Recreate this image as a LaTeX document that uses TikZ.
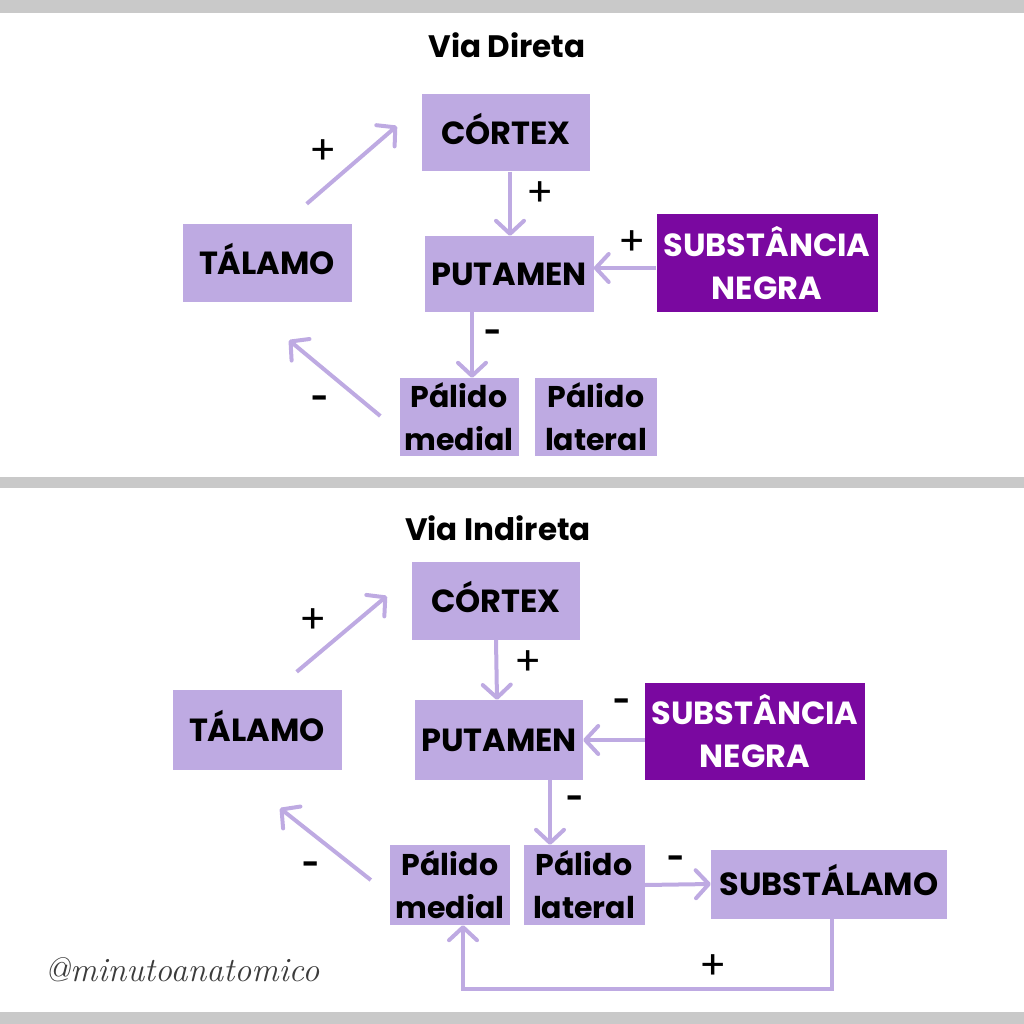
\documentclass[tikz,border=0pt]{standalone}
\usepackage{fontspec}
\setmainfont{Poppins}
\usetikzlibrary{arrows.meta}
\definecolor{lilac}{RGB}{190,170,226}
\definecolor{grape}{RGB}{122,8,160}
\definecolor{bar}{RGB}{201,201,201}
\definecolor{ink}{RGB}{60,60,60}
\begin{document}
\begin{tikzpicture}[x=1pt,y=-1pt]
        \tikzstyle{every node}=[inner sep=0pt, align=center, font=\bfseries\fontsize{32}{43}\selectfont]
        \tikzstyle{area}=[fill=lilac, text=black]
        \tikzstyle{dark}=[fill=grape, text=white]
        \tikzstyle{one}=[text height=23pt, text depth=0pt]
        \tikzstyle{pale}=[font=\bfseries\fontsize{30}{43}\selectfont]
        \tikzstyle{sign}=[font=\fontsize{40}{40}\selectfont]
        \tikzstyle{minus}=[font=\bfseries\fontsize{30}{30}\selectfont]
        \tikzstyle{title}=[font=\bfseries\fontsize{31}{31}\selectfont]
        \tikzstyle{arr}=[draw=lilac, line width=4pt, -{Straight Barb[length=13pt,width=28pt,round]}]
        \useasboundingbox (0,0) rectangle (1024,1024);
        % bars
        \fill[bar] (0,0) rectangle (1024,13);
        \fill[bar] (0,477) rectangle (1024,488);
        \fill[bar] (0,1012) rectangle (1024,1024);
        % via direta
        \node[title] (tit1) at (507,45) {Via Direta};
        \node[area, one, minimum width=168pt, minimum height=77pt] (ctx1) at (506,133) {CÓRTEX};
        \node[area, one, minimum width=169pt, minimum height=78pt] (tal1) at (267,263) {TÁLAMO};
        \node[area, one, minimum width=169pt, minimum height=76pt] (put1) at (509,274) {PUTAMEN};
        \node[dark, minimum width=221pt, minimum height=98pt] (sn1) at (767,263) {SUBSTÂNCIA\\NEGRA};
        \node[area, pale, minimum width=119pt, minimum height=78pt] (med1) at (459,417) {Pálido\\medial};
        \node[area, pale, minimum width=122pt, minimum height=78pt] (lat1) at (596,417) {Pálido\\lateral};
        \draw[arr] ([shift={(-45,-20)}]tal1.north east) -- ([shift={(-25,-7)}]ctx1.west);
        \draw[arr] ([xshift=4pt]ctx1.south) -- ([xshift=1pt]put1.north);
        \draw[arr] ([shift={(0,5)}]sn1.west) -- ([shift={(0,5)}]sn1.west -| put1.east);
        \draw[arr] ([xshift=13pt]med1.north |- put1.south) -- ([xshift=13pt]med1.north);
        \draw[arr] ([shift={(-19,-1)}]med1.west) -- ([shift={(22,38)}]tal1.south);
        \node[sign] at (323,152) {+};
        \node[sign] at (540,194) {+};
        \node[sign] at (632,243) {+};
        \node[minus] at (493,336) {-};
        \node[minus] at (320,402) {-};
        % via indireta
        \node[title] (tit2) at (498,528) {Via Indireta};
        \node[area, one, minimum width=168pt, minimum height=78pt] (ctx2) at (496,601) {CÓRTEX};
        \node[area, one, minimum width=169pt, minimum height=80pt] (tal2) at (257,730) {TÁLAMO};
        \node[area, one, minimum width=168pt, minimum height=80pt] (put2) at (499,740) {PUTAMEN};
        \node[dark, minimum width=220pt, minimum height=97pt] (sn2) at (755,731) {SUBSTÂNCIA\\NEGRA};
        \node[area, pale, minimum width=120pt, minimum height=80pt] (med2) at (450,885) {Pálido\\medial};
        \node[area, pale, minimum width=121pt, minimum height=80pt] (lat2) at (584,885) {Pálido\\lateral};
        \node[area, one, minimum width=236pt, minimum height=69pt] (sub2) at (829,884) {SUBSTÁLAMO};
        \draw[arr] ([shift={(-45,-18)}]tal2.north east) -- ([shift={(-25,-5)}]ctx2.west);
        \draw[arr] (ctx2.south) -- ([xshift=-2pt]put2.north);
        \draw[arr] (put2.east -| sn2.west) -- (put2.east);
        \draw[arr] ([xshift=-34pt]lat2.north |- put2.south) -- ([xshift=-34pt]lat2.north);
        \draw[arr] ([shift={(-19,-5)}]med2.west) -- ([shift={(23,38)}]tal2.south);
        \draw[arr] (lat2.east) -- (sub2.west);
        \draw[arr] ([xshift=3pt]sub2.south) -- ++(0,70) -| ([xshift=13pt]med2.south);
        \node[sign] at (313,621) {+};
        \node[sign] at (528,663) {+};
        \node[minus] at (622,705) {-};
        \node[minus] at (575,802) {-};
        \node[minus] at (311,868) {-};
        \node[minus] at (676,862) {-};
        \node[sign] at (713,967) {+};
        % assinatura
        \node[text=ink, font=\fontfamily{lmr}\itshape\fontsize{34}{34}\selectfont] (tag) at (182,970) {@minutoanatomico};
\end{tikzpicture}
\end{document}
